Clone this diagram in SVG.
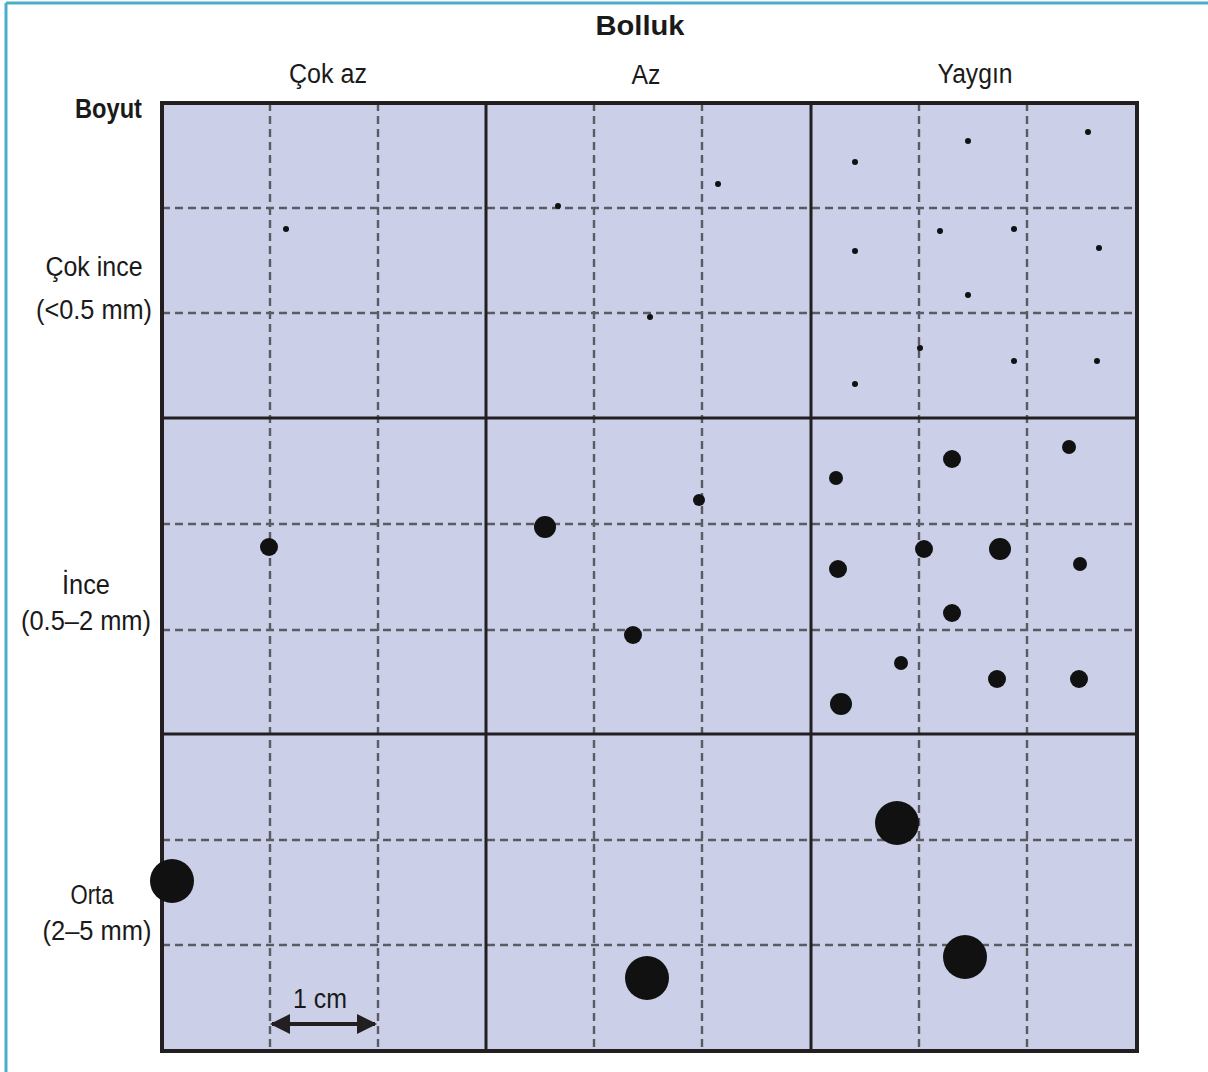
<svg xmlns="http://www.w3.org/2000/svg" width="1208" height="1072" viewBox="0 0 1208 1072">
<style>
.t{font-family:"Liberation Sans",Arial,sans-serif;font-size:27px;fill:#1a1a1a}
.b{font-weight:bold}
.dash{stroke:#5a5b63;stroke-width:2.4;stroke-dasharray:8 5;fill:none}
.major{stroke:#231f20;stroke-width:3;fill:none}
.dot{fill:#111}
</style>
<defs>
<marker id="ah" viewBox="0 0 10 10" refX="9" refY="5" markerWidth="5" markerHeight="5" orient="auto-start-reverse" markerUnits="strokeWidth">
<path d="M0,0 L10,5 L0,10 Z" fill="#231f20"/>
</marker>
</defs>
<rect width="1208" height="1072" fill="#fff"/>
<g id="frame">
<line x1="6" y1="3" x2="1208" y2="3" stroke="#4aaec8" stroke-width="3"/>
<line x1="6" y1="3" x2="6" y2="1072" stroke="#4aaec8" stroke-width="3"/>
</g>
<g id="titles">
<text class="t b" x="640" y="35" text-anchor="middle" font-size="30" textLength="89" lengthAdjust="spacingAndGlyphs">Bolluk</text>
<text class="t" x="328" y="83" text-anchor="middle" textLength="78" lengthAdjust="spacingAndGlyphs">Çok az</text>
<text class="t" x="646" y="84" text-anchor="middle" textLength="29" lengthAdjust="spacingAndGlyphs">Az</text>
<text class="t" x="975" y="83" text-anchor="middle" textLength="75" lengthAdjust="spacingAndGlyphs">Yaygın</text>
<text class="t b" x="142" y="118" text-anchor="end" textLength="67" lengthAdjust="spacingAndGlyphs">Boyut</text>
<text class="t" x="94" y="276" text-anchor="middle" textLength="97" lengthAdjust="spacingAndGlyphs">Çok ince</text>
<text class="t" x="94" y="319" text-anchor="middle" textLength="116" lengthAdjust="spacingAndGlyphs">(&lt;0.5 mm)</text>
<text class="t" x="86" y="594" text-anchor="middle" textLength="48" lengthAdjust="spacingAndGlyphs">İnce</text>
<text class="t" x="86" y="630" text-anchor="middle" textLength="130" lengthAdjust="spacingAndGlyphs">(0.5–2 mm)</text>
<text class="t" x="92" y="904" text-anchor="middle" textLength="43" lengthAdjust="spacingAndGlyphs">Orta</text>
<text class="t" x="97" y="940" text-anchor="middle" textLength="109" lengthAdjust="spacingAndGlyphs">(2–5 mm)</text>
</g>
<g id="grid">
<rect x="162" y="103" width="975" height="948" fill="#cbd0e8"/>
<g class="dash">
<line x1="270" y1="103" x2="270" y2="1051"/>
<line x1="378" y1="103" x2="378" y2="1051"/>
<line x1="594" y1="103" x2="594" y2="1051"/>
<line x1="702" y1="103" x2="702" y2="1051"/>
<line x1="919" y1="103" x2="919" y2="1051"/>
<line x1="1027" y1="103" x2="1027" y2="1051"/>
<line x1="162" y1="208" x2="1137" y2="208"/>
<line x1="162" y1="313" x2="1137" y2="313"/>
<line x1="162" y1="524" x2="1137" y2="524"/>
<line x1="162" y1="630" x2="1137" y2="630"/>
<line x1="162" y1="840" x2="1137" y2="840"/>
<line x1="162" y1="945" x2="1137" y2="945"/>
</g>
<g class="major">
<line x1="486" y1="103" x2="486" y2="1051"/>
<line x1="811" y1="103" x2="811" y2="1051"/>
<line x1="162" y1="418" x2="1137" y2="418"/>
<line x1="162" y1="734" x2="1137" y2="734"/>
</g>
<rect x="162" y="103" width="975" height="948" fill="none" stroke="#231f20" stroke-width="4"/>
</g>
<g id="dots-fine" class="dot">
<circle cx="286" cy="229" r="3"/>
<circle cx="558" cy="206" r="3"/>
<circle cx="718" cy="184" r="3"/>
<circle cx="650" cy="317" r="3"/>
<circle cx="855" cy="162" r="3"/>
<circle cx="968" cy="141" r="3"/>
<circle cx="1088" cy="132" r="3"/>
<circle cx="940" cy="231" r="3"/>
<circle cx="1014" cy="229" r="3"/>
<circle cx="855" cy="251" r="3"/>
<circle cx="1099" cy="248" r="3"/>
<circle cx="968" cy="295" r="3"/>
<circle cx="920" cy="348" r="3"/>
<circle cx="1014" cy="361" r="3"/>
<circle cx="1097" cy="361" r="3"/>
<circle cx="855" cy="384" r="3"/>
</g>
<g id="dots-medium" class="dot">
<circle cx="269" cy="547" r="9"/>
<circle cx="545" cy="527" r="11"/>
<circle cx="699" cy="500" r="6"/>
<circle cx="633" cy="635" r="9"/>
<circle cx="836" cy="478" r="7"/>
<circle cx="952" cy="459" r="9"/>
<circle cx="1069" cy="447" r="7"/>
<circle cx="838" cy="569" r="9"/>
<circle cx="924" cy="549" r="9"/>
<circle cx="1000" cy="549" r="11"/>
<circle cx="1080" cy="564" r="7"/>
<circle cx="952" cy="613" r="9"/>
<circle cx="901" cy="663" r="7"/>
<circle cx="997" cy="679" r="9"/>
<circle cx="1079" cy="679" r="9"/>
<circle cx="841" cy="704" r="11"/>
</g>
<g id="dots-coarse" class="dot">
<circle cx="172" cy="881" r="22"/>
<circle cx="647" cy="978" r="22"/>
<circle cx="897" cy="823" r="22"/>
<circle cx="965" cy="957" r="22"/>
</g>
<g id="scale">
<line x1="272" y1="1024" x2="375" y2="1024" stroke="#231f20" stroke-width="4" marker-start="url(#ah)" marker-end="url(#ah)"/>
<text class="t" x="320" y="1008" text-anchor="middle" textLength="54" lengthAdjust="spacingAndGlyphs">1 cm</text>
</g>
</svg>
